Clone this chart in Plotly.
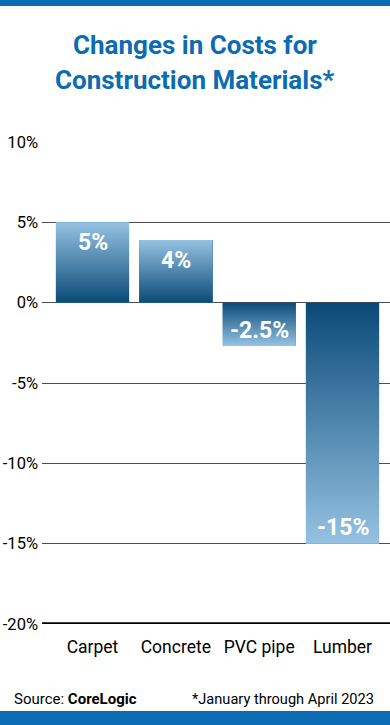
import plotly.graph_objects as go

categories = ["Carpet", "Concrete", "PVC pipe", "Lumber"]
values = [5, 3.9, -2.7, -15]
labels = ["5%", "4%", "-2.5%", "-15%"]
y_ticks = [-20, -15, -10, -5, 0, 5, 10]

DARK = "#0a4a78"
LIGHT = "#95c2e2"
BLUE = "#0b6bb3"
FONT = "Roboto, Liberation Sans Narrow, Arial Narrow, sans-serif"
BAR_W = 0.88

# plot area geometry (pixels) for paper conversions
L, R, T, B = 42, 390, 142, 624
def px(x):
    return (x - L) / (R - L)
def py(y):
    return (B - y) / (B - T)

fig = go.Figure()
xs = list(range(len(categories)))
fig.add_trace(go.Bar(x=xs, y=values, width=BAR_W, marker=dict(color="#4f86b0", line=dict(width=0)),
                     hoverinfo="skip", showlegend=False))

for i, v in zip(xs, values):
    cs = [[0, DARK], [1, LIGHT]] if v > 0 else [[0, LIGHT], [1, DARK]]
    fig.add_trace(go.Scatter(
        x=[i - BAR_W / 2, i + BAR_W / 2, i + BAR_W / 2, i - BAR_W / 2, i - BAR_W / 2],
        y=[0, 0, v, v, 0],
        mode="lines", line=dict(width=0), fill="toself",
        fillgradient=dict(type="vertical", colorscale=cs),
        hoverinfo="skip", showlegend=False))

for i, v, t in zip(xs, values, labels):
    fig.add_annotation(x=i, y=v, text=f"<b>{t}</b>", showarrow=False,
                       yshift=-20 if v > 0 else 16,
                       font=dict(family=FONT, size=23, color="white"))

fig.update_layout(
    width=390, height=725,
    margin=dict(l=L, r=390 - R, t=T, b=725 - B),
    paper_bgcolor="white", plot_bgcolor="white",
    showlegend=False, bargap=0,
    xaxis=dict(range=[-0.606, 3.57], tickvals=xs, ticktext=categories,
               showgrid=False, zeroline=False, showline=False, ticks="", tickangle=0,
               automargin=False,
               tickfont=dict(family=FONT, size=17.5, color="black"), ticklabelstandoff=10,
               fixedrange=True),
    yaxis=dict(range=[-20, 10], tickvals=y_ticks, ticktext=[f"{t}%" for t in y_ticks],
               showgrid=True, gridcolor="#4d4d4d", gridwidth=1, zeroline=False,
               showline=False, ticks="", ticklabelstandoff=3, automargin=False,
               tickfont=dict(family=FONT, size=16.5, color="black"), fixedrange=True),
)

# thick baseline at -20%
fig.add_shape(type="line", xref="paper", yref="y", x0=0, x1=1, y0=-20, y1=-20,
              line=dict(color="black", width=3.5))
# top and bottom blue bands
fig.add_shape(type="rect", xref="paper", yref="paper", x0=px(0), x1=px(390), y0=py(6), y1=py(-2),
              fillcolor=BLUE, line=dict(width=0))
fig.add_shape(type="rect", xref="paper", yref="paper", x0=px(0), x1=px(390), y0=py(727), y1=py(711),
              fillcolor=BLUE, line=dict(width=0))

# title
fig.add_annotation(xref="paper", yref="paper", x=px(195), y=py(45), text="<b>Changes in Costs for</b>",
                   showarrow=False, xanchor="center", yanchor="middle",
                   font=dict(family=FONT, size=26, color=BLUE))
fig.add_annotation(xref="paper", yref="paper", x=px(195), y=py(80), text="<b>Construction Materials*</b>",
                   showarrow=False, xanchor="center", yanchor="middle",
                   font=dict(family=FONT, size=26, color=BLUE))

# footer
fig.add_annotation(xref="paper", yref="paper", x=px(12), y=py(699), text="Source: <b>CoreLogic</b>",
                   showarrow=False, xanchor="left", yanchor="middle",
                   font=dict(family=FONT, size=15, color="black"))
fig.add_annotation(xref="paper", yref="paper", x=px(376), y=py(699), text="*January through April 2023",
                   showarrow=False, xanchor="right", yanchor="middle",
                   font=dict(family=FONT, size=14.6, color="black"))

fig.write_html("out.html", config={"displayModeBar": False},
               post_script="document.body.style.margin='0';")
